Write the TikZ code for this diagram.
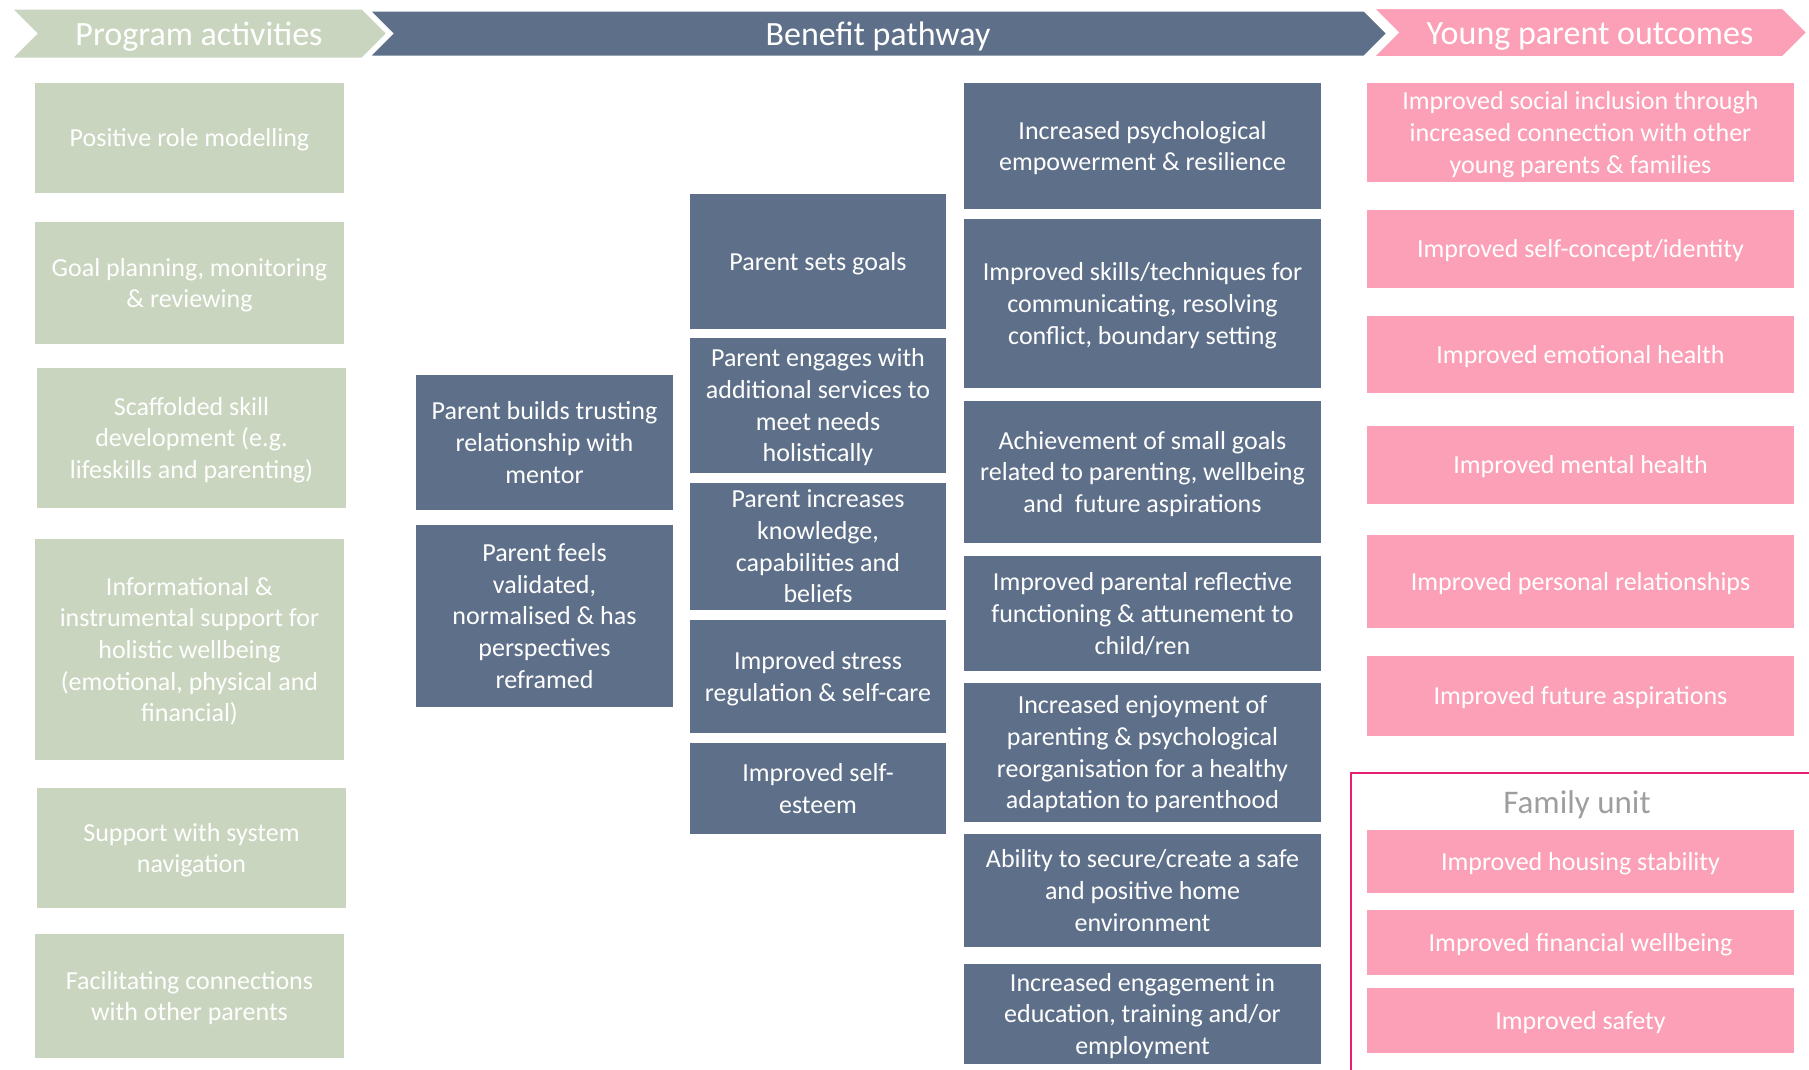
\documentclass[tikz,border=0pt]{standalone}
\usepackage{fontspec}
\setmainfont{Carlito}
\usetikzlibrary{shapes.symbols}

\definecolor{actgreen}{RGB}{201,213,190}
\definecolor{benblue}{RGB}{94,112,137}
\definecolor{outpink}{RGB}{251,160,182}
\definecolor{famrose}{RGB}{230,32,112}
\definecolor{famgrey}{RGB}{158,158,158}

\begin{document}
\begin{tikzpicture}[x=1pt,y=-1pt,
    % struts so that every line box is as tall as the font's full line
    linebox/.style={execute at begin node={\rule{0pt}{0.952em}},
      execute at end node={\rule[-0.268em]{0pt}{0pt}}},
    hdr/.style={signal,signal from=west,signal to=east,signal pointer angle=90,
      draw=white,line width=3pt,inner sep=0pt,text=white,linebox,
      font=\fontsize{34}{41}\selectfont},
    box/.style={rectangle,inner sep=0pt,outer sep=0pt,text=white,align=flush center,
      text width=#1,minimum width=#1,linebox,font=\fontsize{26}{31.7}\selectfont},
    act/.style={box=309pt,fill=actgreen},
    ben/.style={box=257pt,fill=benblue},
    ben2/.style={box=256pt,fill=benblue},
    ben3/.style={box=357pt,fill=benblue},
    outc/.style={box=427pt,fill=outpink},
    famframe/.style={draw=famrose,line width=2pt}]
    \useasboundingbox (0,0) rectangle (1809,1069);
    \fill[white] (0,0) rectangle (1809,1069);

    % headers
    \node[hdr,fill=benblue,minimum width=1020pt,minimum height=47pt] (hben) at (878,33.5) {Benefit pathway};
    \node[hdr,fill=actgreen,minimum width=378pt,minimum height=51pt] (hact) at (199,33.5) {Program activities};
    \node[hdr,fill=outpink,minimum width=436pt,minimum height=50pt] (hout) at (1590,32.5) {Young parent outcomes};

    % program activities
    \node[act,minimum height=110pt] (a1) at (189.5,138) {Positive role modelling};
    \node[act,minimum height=122pt] (a2) at (189.5,283) {Goal planning, monitoring\\\& reviewing};
    \node[act,minimum height=140pt] (a3) at (191.5,438) {Scaffolded skill\\development (e.g.\\lifeskills and parenting)};
    \node[act,minimum height=221pt] (a4) at (189.5,649.5) {Informational \&\\instrumental support for\\holistic wellbeing\\(emotional, physical and\\financial)};
    \node[act,minimum height=120pt] (a5) at (191.5,848) {Support with system\\navigation};
    \node[act,minimum height=124pt] (a6) at (189.5,996) {Facilitating connections\\with other parents};

    % benefit pathway
    \node[ben,minimum height=135pt] (m1) at (544.5,442.5) {Parent builds trusting\\relationship with\\mentor};
    \node[ben,minimum height=182pt] (m2) at (544.5,616) {Parent feels\\validated,\\normalised \& has\\perspectives\\reframed};

    \node[ben2,minimum height=135pt] (s1) at (818,261.5) {Parent sets goals};
    \node[ben2,minimum height=135pt] (s2) at (818,405.5) {Parent engages with\\additional services to\\meet needs\\holistically};
    \node[ben2,minimum height=127pt] (s3) at (818,546.5) {Parent increases\\knowledge,\\capabilities and\\beliefs};
    \node[ben2,minimum height=113pt] (s4) at (818,676.5) {Improved stress\\regulation \& self-care};
    \node[ben2,minimum height=91pt] (s5) at (818,788.5) {Improved self-\\esteem};

    \node[ben3,minimum height=126pt] (t1) at (1142.5,146) {Increased psychological\\empowerment \& resilience};
    \node[ben3,minimum height=169pt] (t2) at (1142.5,303.5) {Improved skills/techniques for\\communicating, resolving\\conflict, boundary setting};
    \node[ben3,minimum height=142pt] (t3) at (1142.5,472) {Achievement of small goals\\related to parenting, wellbeing\\and~ future aspirations};
    \node[ben3,minimum height=115pt] (t4) at (1142.5,613.5) {Improved parental reflective\\functioning \& attunement to\\child/ren};
    \node[ben3,minimum height=139pt] (t5) at (1142.5,752.5) {Increased enjoyment of\\parenting \& psychological\\reorganisation for a healthy\\adaptation to parenthood};
    \node[ben3,minimum height=113pt] (t6) at (1142.5,890.5) {Ability to secure/create a safe\\and positive home\\environment};
    \node[ben3,minimum height=100pt] (t7) at (1142.5,1014) {Increased engagement in\\education, training and/or\\employment};

    % young parent outcomes
    \node[outc,minimum height=99pt] (o1) at (1580.5,132.5) {Improved social inclusion through\\increased connection with other\\young parents \& families};
    \node[outc,minimum height=78pt] (o2) at (1580.5,249) {Improved self-concept/identity};
    \node[outc,minimum height=77pt] (o3) at (1580.5,354.5) {Improved emotional health};
    \node[outc,minimum height=78pt] (o4) at (1580.5,465) {Improved mental health};
    \node[outc,minimum height=93pt] (o5) at (1580.5,581.5) {Improved personal relationships};
    \node[outc,minimum height=80pt] (o6) at (1580.5,695.5) {Improved future aspirations};

    % family unit
    \coordinate (fambot) at (1351,1080);
    \coordinate (famright) at (1820,773);
    \draw[famframe] (fambot) |- (famright);
    \node[text=famgrey,inner sep=0pt,linebox,font=\fontsize{33}{40}\selectfont] (famtitle) at (1577,802) {Family unit};
    \node[outc,minimum height=63pt] (f1) at (1580.5,861.5) {Improved housing stability};
    \node[outc,minimum height=65pt] (f2) at (1580.5,942.5) {Improved financial wellbeing};
    \node[outc,minimum height=65pt] (f3) at (1580.5,1020.5) {Improved safety};
\end{tikzpicture}
\end{document}
